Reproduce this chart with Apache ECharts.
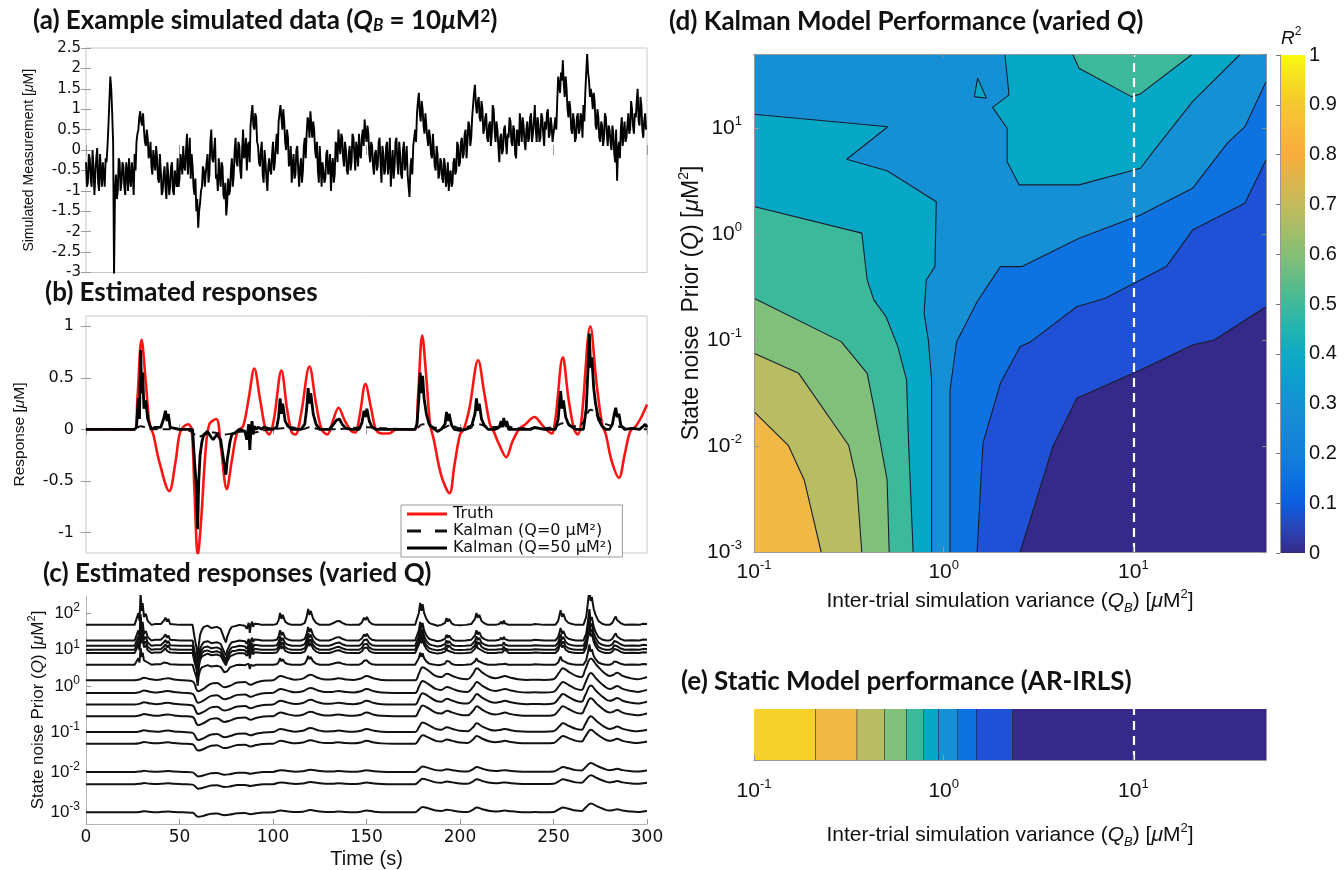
<!DOCTYPE html>
<html><head><meta charset="utf-8">
<script src="https://cdn.jsdelivr.net/npm/echarts@6/dist/echarts.min.js"></script>
<style>html,body{margin:0;padding:0;background:#fff}#c{width:1344px;height:870px}</style>
</head><body><div id="c"></div>
<script>
// ---------------- DATA ----------------
// (a) simulated measurement: values at whole seconds (t = 0..299) ...
const aValues = [
-0.3,-0.8,-0.2,-0.9,-0.4,-0.6,0.05,-1.0,-0.5,-0.3,
-0.9,-0.3,0.6,1.8,0.9,-3.1,-0.6,-1.0,-0.3,-0.8,
-0.4,-1.1,-0.5,-0.2,-0.9,-0.6,-0.1,0.2,0.5,0.95,
0.6,0.5,0.1,0.3,-0.1,-0.4,0.0,-0.5,-0.2,-0.8,
-0.5,-1.0,-0.4,-1.2,-0.6,-0.9,-0.3,-1.1,-0.5,-0.2,
-0.7,-0.3,0.1,-0.5,0.4,-0.2,-0.7,-0.4,-1.1,-1.5,
-1.9,-1.3,-0.9,-0.5,-0.9,-0.1,-0.6,0.5,-0.3,0.3,
-0.6,-0.2,-0.9,-0.4,-1.2,-1.6,-0.7,-1.0,-0.2,-0.6,
0.3,-0.4,0.1,-0.7,0.5,-0.1,-0.5,0.2,0.6,1.1,
0.5,0.8,0.1,-0.4,0.2,-0.8,-0.3,-1.0,-0.2,-0.6,
0.2,-0.3,0.4,0.7,1.1,0.5,0.7,0.0,0.3,-0.3,
-0.8,-0.1,-0.6,0.1,-0.9,-0.2,-0.5,0.3,0.4,0.7,
0.95,0.3,0.5,-0.2,-0.5,0.1,-0.9,-0.3,-0.7,0.0,
-0.5,-1.0,-0.2,-0.6,0.1,0.5,-0.1,0.3,-0.4,0.0,
-0.6,0.1,-0.3,0.3,-0.5,0.0,0.4,-0.2,0.5,0.75,
0.2,0.4,-0.3,0.1,-0.6,0.0,-0.4,0.3,-0.8,-0.1,
-0.5,0.2,-0.3,-0.9,0.0,-0.4,0.3,-0.6,-0.1,-0.7,
0.2,-0.3,-0.6,-1.15,-0.2,0.1,0.5,0.9,1.4,0.7,
1.0,0.4,0.6,0.1,0.3,-0.2,0.0,-0.5,-0.1,-0.6,
-0.3,-0.8,-0.4,-0.7,-1.0,-0.5,-0.8,-0.2,-0.5,0.1,
-0.3,0.3,-0.1,0.5,0.2,0.6,0.3,1.1,1.6,0.9,
1.3,0.7,1.0,0.5,0.9,0.2,0.7,0.4,1.0,0.2,
0.5,-0.3,0.4,0.0,0.6,-0.1,0.3,0.7,0.1,0.5,
-0.2,0.4,0.9,0.2,0.6,0.0,0.7,0.3,0.9,0.4,
1.1,0.2,0.6,0.3,0.8,0.1,0.5,1.0,0.4,0.6,
0.2,0.8,1.2,1.6,1.9,2.2,1.3,1.5,0.8,1.0,
0.4,0.7,0.3,0.9,0.5,0.8,1.1,1.4,2.35,1.7,
1.5,1.0,1.2,0.5,0.8,0.2,0.6,0.3,0.8,0.1,
0.5,0.0,0.4,-0.3,-0.75,0.2,0.5,0.1,0.7,0.3,
0.9,0.5,1.0,0.4,0.8,1.5,0.6,1.1,0.3,0.9
];
// ... and at the half seconds in between (t = 0.5..299.5)
const aValuesHalf = [
-0.9,-0.1,-0.7,0.0,-1.1,-0.2,-0.8,-0.1,-0.9,-0.6,
-0.2,0.1,1.2,1.5,0.2,-1.0,-1.2,-0.2,-1.0,-0.3,
-0.9,-0.3,-1.0,-0.7,-0.3,-1.1,-0.5,0.4,0.8,0.7,
0.9,0.2,0.5,-0.2,0.2,-0.6,-0.3,0.1,-0.7,-0.1,
-1.1,-0.6,-0.9,-0.3,-1.1,-0.4,-1.0,-0.5,-0.9,-0.9,
-0.1,-0.6,-0.4,0.0,-0.6,0.3,-0.1,-0.9,-0.7,-1.2,
-1.5,-1.0,-0.4,-0.9,-0.3,-0.8,0.2,-0.2,0.0,-0.7,
-1.0,-0.6,-0.3,-1.1,-0.8,-1.3,-1.1,-0.5,-0.9,0.0,
-0.3,0.2,-0.5,0.0,-0.2,0.3,0.1,-0.3,0.9,0.6,
0.9,0.2,-0.3,0.0,-0.6,0.0,-0.7,-0.4,-0.5,-0.1,
-0.5,0.1,-0.1,0.9,0.8,1.0,0.2,0.5,-0.4,0.1,
-0.4,-0.7,0.0,-0.5,-0.4,-0.8,0.1,-0.2,0.8,0.3,
0.6,0.7,0.0,0.2,-0.8,-0.4,-0.3,-0.8,-0.1,-0.6,
-0.1,-0.4,-0.8,0.2,-0.3,0.1,0.4,-0.2,0.2,-0.5,
-0.1,-0.5,0.4,-0.1,0.2,-0.4,-0.1,0.3,0.1,0.4,
0.6,-0.1,0.2,-0.4,-0.1,-0.5,0.2,-0.3,0.1,-0.6,
0.1,-0.6,0.3,-0.4,-0.7,0.2,-0.3,0.2,-0.6,0.0,
-0.5,0.1,-0.9,-0.4,-0.6,0.3,0.2,1.2,0.9,1.2,
0.6,0.9,0.3,0.5,-0.1,0.4,-0.4,0.1,-0.7,-0.2,
-0.7,-0.2,-0.9,-0.3,-0.6,-0.9,-0.3,-0.6,0.2,-0.4,
0.2,-0.2,0.4,-0.2,0.7,0.1,0.8,1.4,1.1,1.2,
0.8,1.2,0.4,0.8,0.3,0.6,0.1,1.1,0.5,0.7,
0.1,0.3,-0.1,0.5,0.2,0.4,0.8,0.2,0.6,-0.1,
0.5,0.1,0.6,0.8,0.2,0.5,0.2,0.8,0.2,0.7,
0.5,0.8,0.2,0.9,0.4,0.7,0.9,0.3,0.8,0.2,
0.6,0.5,1.8,1.4,1.7,1.6,1.8,1.0,1.2,0.5,
0.9,0.2,0.8,0.4,0.9,0.3,0.7,1.9,1.9,1.3,
1.3,1.4,0.6,1.0,0.3,0.7,0.1,0.9,0.4,0.6,
0.2,0.6,-0.1,0.5,0.0,-0.2,0.8,0.4,0.2,0.6,
0.4,1.2,0.6,0.9,1.2,0.7,1.3,0.5,0.7,0.5
];

// (b) responses: [time s, response uM]
const bTruth = [[0,0],[26,0],[27.5,0.3],[29.7,0.87],[32,0.45],[34,0.05],[36,-0.05],[39,-0.3],[44.5,-0.6],[48,-0.3],[50.5,-0.02],[54.6,0.05],[56.5,0.0],[58,-0.6],[59.8,-1.22],[61.5,-0.9],[64,-0.2],[66,0.05],[69.7,0.1],[72,-0.15],[75.3,-0.58],[78,-0.3],[81,-0.02],[84,0.03],[87,0.3],[90,0.59],[93,0.3],[96,0.0],[98,-0.05],[100.5,0.1],[104.5,0.57],[107.5,0.2],[110,-0.03],[112,-0.05],[115,0.15],[119.5,0.61],[123,0.25],[126,0.0],[129,-0.05],[132,0.08],[135,0.21],[138.5,0.08],[142,-0.02],[144,-0.03],[146.5,0.15],[149.4,0.44],[152.5,0.2],[155,0.0],[158,-0.04],[162,-0.04],[166,0.0],[176,0],[177.5,0.3],[179.8,0.91],[182,0.5],[184,0.05],[186,-0.1],[190,-0.45],[194.4,-0.62],[197,-0.35],[200,-0.05],[202,0.0],[205,0.2],[209.7,0.67],[213,0.35],[216,0.05],[218,-0.02],[221,-0.15],[224.7,-0.27],[228,-0.12],[231.5,0.0],[235,0.05],[239.8,0.12],[244,0.04],[246,0.0],[249,-0.04],[251,0.1],[255,0.7],[258,0.3],[261,0.0],[263,-0.05],[265,0.1],[269.7,1.0],[273,0.45],[276,0.05],[278,-0.05],[281,-0.3],[285,-0.47],[288,-0.25],[291,-0.02],[294,0.03],[297,0.12],[300,0.24]];
const bKalman0 = [[0,0],[26,0],[29,0.03],[32,0.02],[36,0.0],[45,0.0],[52,0.0],[56,-0.02],[60,-0.07],[64,-0.05],[68,-0.03],[74,-0.05],[78,-0.04],[84,-0.02],[90,-0.03],[95,-0.01],[100,0.0],[105,0.01],[110,0.02],[115,0.0],[120,0.02],[125,0.0],[130,0.0],[150,0.02],[160,0.01],[176,0.0],[180,0.05],[184,0.03],[190,0.01],[195,0.04],[200,0.01],[210,0.05],[216,0.02],[225,0.03],[230,0.01],[240,0.01],[250,0.02],[255,0.06],[260,0.03],[265,0.05],[270,0.19],[274,0.12],[278,0.05],[284,0.03],[290,0.01],[300,0.0]];
const bKalman50 = [[0,0],[26,0],[27,0.02],[28,0.3],[28.6,0.1],[29.2,0.77],[29.8,0.35],[30.3,0.55],[31,0.2],[32,0.28],[33,0.1],[34,0.05],[35,0.0],[37,0.02],[40,0.02],[41.5,0.1],[42.5,0.18],[43.3,0.08],[44,0.15],[45,0.02],[46,0.01],[50,0.0],[55,0.0],[57,0.0],[58,-0.3],[59.2,-0.6],[59.7,-0.97],[60.3,-0.5],[61,-0.25],[62,-0.12],[63,-0.05],[65,-0.02],[67,-0.08],[68,-0.1],[70,-0.05],[72,-0.1],[74,-0.35],[74.8,-0.44],[75.5,-0.3],[77,-0.12],[78,-0.05],[80,-0.03],[82,0.0],[85,-0.02],[86,-0.1],[87,0.05],[87.6,-0.2],[88.2,0.0],[88.8,0.08],[89.4,-0.05],[90,0.03],[91,0.0],[92,0.02],[94,0.0],[95,0.02],[100,0.0],[102,0.02],[103,0.12],[103.8,0.3],[104.5,0.15],[105.2,0.25],[106.5,0.08],[108,0.03],[110,0.0],[115,0.0],[117,0.05],[118,0.2],[118.8,0.4],[119.5,0.25],[120.2,0.35],[121.5,0.15],[123,0.05],[125,0.0],[130,0.0],[132,0.04],[134,0.09],[135.5,0.1],[137,0.05],[139,0.01],[142,0.0],[146,0.0],[147.5,0.06],[148.7,0.18],[149.5,0.12],[150.2,0.2],[151.5,0.08],[153,0.02],[155,0.0],[176,0.0],[177,0.05],[178,0.3],[178.7,0.55],[179.4,0.35],[180,0.52],[180.8,0.3],[182,0.15],[183.5,0.05],[185,0.02],[188,-0.02],[190,0.0],[192,0.05],[192.8,0.17],[193.5,0.08],[194.2,0.15],[195.5,0.04],[197,0.0],[200,-0.01],[203,0.0],[206,0.02],[208,0.15],[208.8,0.3],[209.5,0.18],[210.3,0.25],[211.5,0.1],[213,0.04],[215,0.0],[219,0.0],[221,0.02],[222,0.08],[222.7,0.02],[223.4,0.11],[224,0.04],[225,0.08],[226,0.0],[230,0.0],[238,0.0],[240,0.02],[245,0.0],[251,0.0],[252.5,0.1],[253.8,0.37],[254.6,0.2],[255.3,0.28],[256.5,0.12],[258,0.05],[260,0.02],[262,0.0],[266,0.0],[267.5,0.2],[268.5,0.6],[269.2,0.93],[269.8,0.6],[270.5,0.7],[271.5,0.4],[272.5,0.25],[274,0.1],[276,0.03],[278,0.0],[280,0.0],[281.5,0.05],[282.5,0.15],[283.3,0.21],[284,0.12],[285,0.15],[286,0.04],[288,0.0],[292,0.01],[296,0.0],[298,0.03],[299,0.05],[300,0.02]];

// (c) smooth (low-Q) response shape, normalised to its largest peak
const cSmoothTpl = [[0,0],[26,0],[29,0.05],[31,0.12],[34,0.06],[38,0.02],[41,0.06],[44,0.1],[47,0.04],[52,0.0],[57,-0.05],[60,-0.5],[63,-0.38],[67,-0.15],[70,-0.12],[74,-0.32],[77,-0.25],[81,-0.1],[85,-0.08],[88,-0.2],[91,-0.1],[95,-0.02],[100,0.0],[104,0.2],[108,0.1],[112,0.03],[116,0.08],[120,0.25],[124,0.12],[128,0.04],[132,0.05],[135,0.1],[139,0.04],[143,0.02],[147,0.08],[150,0.2],[154,0.08],[158,0.02],[165,0.0],[176,0.0],[178,0.3],[180,0.6],[183,0.45],[187,0.2],[190,0.15],[193,0.3],[196,0.2],[200,0.08],[204,0.05],[207,0.3],[209,0.55],[212,0.35],[216,0.15],[219,0.1],[222,0.15],[224,0.2],[227,0.12],[231,0.05],[236,0.02],[240,0.03],[245,0.02],[250,0.05],[253,0.35],[255,0.55],[258,0.4],[262,0.2],[265,0.15],[267,0.5],[270,1.0],[273,0.7],[277,0.35],[280,0.2],[282,0.25],[284,0.35],[287,0.2],[291,0.1],[295,0.05],[298,0.1],[300,0.15]];
// trace baselines on the display-offset axis (top to bottom), and gains
const cBaselines = [20.0,18.43,17.9,17.5,17.17,16.0,14.43,13.17,12.0,10.83,9.23,8.07,5.23,4.0,1.17];
const cSharpGains = [4.0,3.4,3.2,3.0,2.8,2.2];
const cSmoothGains = [2.2,2.0,1.9,1.8,1.6,1.4,0.9,0.9,0.9];
const cTickPos = [1.15,5.2,9.2,13.8,17.5,21.2];
const cTickExp = [-3,-2,-1,0,1,2];

// (d) contour lines, [Q_B, Q] points (uM^2)
const QB_MIN = 0.1, QB_MAX = 50, Q_MIN = 0.001, Q_MAX = 50;
const c01 = [[2.53,0.001],[3.76,0.00986],[5.03,0.0282],[10.9,0.0522],[20.5,0.0897],[26.7,0.1],[50,0.206]];
const c02 = [[1.50,0.001],[1.61,0.0106],[1.99,0.0391],[2.53,0.0867],[2.88,0.0966],[5.03,0.206],[7.1,0.248],[10.9,0.369],[14.9,0.493],[20.5,1.09],[38.7,1.95],[50,5.01]];
const c03 = [[1.08,0.001],[1.08,0.0338],[1.17,0.0966],[1.5,0.23],[1.99,0.493],[2.59,0.493],[5.17,0.914],[10.9,1.51],[14.9,2.02],[20.5,2.70],[31.3,7.2],[38.7,10.3],[50,27.4]];
const c04L = [[0.1,13.5],[0.508,10.3],[0.308,5.08],[0.503,3.96],[0.914,2.02],[0.899,0.493],[0.809,0.369],[0.788,0.179],[0.830,0.1],[0.863,0.042],[0.863,0.001]];
const c04T = [[2.10,50],[2.21,20.6],[1.81,15.7],[2.16,9.97],[2.16,4.82],[2.50,2.91],[5.17,2.91],[10.9,4.18],[12.7,6.0],[20.5,17.8],[36.7,50]];
const c04I = [[1.51,29.6],[1.45,19.8],[1.68,19.1],[1.51,29.6]];
const c05L = [[0.1,1.82],[0.370,1.02],[0.395,0.369],[0.428,0.239],[0.497,0.166],[0.573,0.0867],[0.637,0.042],[0.654,0.00986],[0.690,0.001]];
const c05T = [[4.78,50],[5.17,36.7],[9.76,19.8],[10.9,21.0],[20.5,50]];
const c06 = [[0.1,0.248],[0.288,0.0966],[0.395,0.0485],[0.428,0.0235],[0.503,0.00478],[0.516,0.001]];
const c07 = [[0.1,0.075],[0.172,0.0485],[0.316,0.0101],[0.347,0.00478],[0.370,0.001]];
const c08 = [[0.1,0.0211],[0.152,0.01007],[0.184,0.00478],[0.226,0.001]];
const QB_MARK = 10;

// (e) static model: band edges in Q_B and the R^2 band of each segment
const eBreaks = [0.1,0.212,0.350,0.489,0.637,0.788,0.940,1.19,1.49,2.31,50];
const eLevels = [0.9,0.8,0.7,0.6,0.5,0.4,0.3,0.2,0.1,0.0];

// colours of the filled bands (R^2 = 0,0.1,...,0.9) and colour bar stops
const bandColors = ['#352a8a','#2050d6','#0e72e0','#1690d4','#07a8c6','#3cb99a','#80c07a','#b8bd64','#f0b844','#f7d12b'];
const cbStops = [[0,'#352a87'],[0.05,'#2a45b8'],[0.1,'#0b5ee0'],[0.15,'#0c70e0'],[0.2,'#1480da'],[0.25,'#1788d6'],[0.3,'#1592d2'],[0.35,'#0c9ecd'],[0.4,'#0eaac4'],[0.45,'#22b4b0'],[0.5,'#3fb99a'],[0.55,'#62bc86'],[0.6,'#86bf75'],[0.65,'#a5bd68'],[0.7,'#c2bb5c'],[0.75,'#deb44c'],[0.8,'#f8ae3c'],[0.85,'#f8b93a'],[0.9,'#f5c82f'],[0.95,'#f6dd22'],[1.0,'#f9f90f']];

// ---------------- CHART ----------------
const NARROW = "'Liberation Sans Narrow','Liberation Sans',Arial,sans-serif";
const SANS = "'Liberation Sans',Arial,sans-serif";
const WIDE = "'DejaVu Sans',sans-serif";
const TF = "Lato,'Open Sans',sans-serif";
const chart = echarts.init(document.getElementById('c'), null, {renderer:'canvas'});

function supRich(fs, ss, fam) {
  return {
    b:{fontSize:fs, fontFamily:fam, color:'#111', fontWeight:'normal', lineHeight:fs+6},
    i:{fontSize:fs, fontFamily:fam, color:'#111', fontWeight:'normal', fontStyle:'italic', lineHeight:fs+6},
    s:{fontSize:ss, fontFamily:fam, color:'#111', fontWeight:'normal', verticalAlign:'top', lineHeight:ss},
    u:{fontSize:ss, fontFamily:fam, color:'#111', fontWeight:'normal', fontStyle:'italic', verticalAlign:'bottom', lineHeight:ss}
  };
}
const pow10 = e => '{b|10}{s|' + e + '}';
const logFmt = v => pow10(Math.round(Math.log10(v)));

function titleRich(fs) {
  return {
    t:{fontSize:fs, fontFamily:TF, fontWeight:'bold', color:'#111'},
    ti:{fontSize:fs, fontFamily:TF, fontWeight:'bold', fontStyle:'italic', color:'#111'},
    tsub:{fontSize:fs*0.65, fontFamily:TF, fontWeight:'bold', fontStyle:'italic', color:'#111', verticalAlign:'bottom', lineHeight:fs*0.8},
    tsup:{fontSize:fs*0.65, fontFamily:TF, fontWeight:'bold', color:'#111', verticalAlign:'top', lineHeight:fs*0.8}
  };
}
const TS = 26;
const titles = [
  {left:33, top:8, text:'{t|(a) Example simulated data (}{ti|Q}{tsub|B}{t| = 10}{ti|μ}{t|M}{tsup|2}{t|)}'},
  {left:45, top:280, text:'{t|(b) Estimated responses}'},
  {left:43, top:561, text:'{t|(c) Estimated responses (varied Q)}'},
  {left:669, top:9, text:'{t|(d) Kalman Model Performance (varied }{ti|Q}{t|)}'},
  {left:681, top:669, text:'{t|(e) Static Model performance (AR-IRLS)}'}
].map(o => ({left:o.left, top:o.top, padding:0, text:o.text, textStyle:{rich:titleRich(TS)}}));
titles.push({left:1281, top:26, padding:0, text:'{i|R}{s|2}', textStyle:{fontWeight:'normal', rich:supRich(19,12,SANS)}});

const G = '#b5b5b5';
const tickIn = {show:true, inside:true, length:5, lineStyle:{color:'#999'}};
const noSplit = {show:false};

const grid = [
  {left:86, top:48, width:561, height:224.5, show:true, borderColor:'#c8c8c8', borderWidth:1},
  {left:86, top:316, width:561, height:237, show:true, borderColor:'#c8c8c8', borderWidth:1},
  {left:86, top:596, width:561, height:229},
  {left:754, top:54, width:512, height:498},
  {left:754, top:709, width:512, height:51},
  {left:1280, top:55, width:25, height:498}
];

const QBNAME = 'Inter-trial simulation variance ({i|Q}{u|B}) [{i|μ}{b|M}{s|2}]';
const bLabelVals = [-1,-0.5,0,0.5,1];
const frameLine = {show:true, lineStyle:{color:'#999'}};
const xAxis = [
  {gridIndex:0, type:'value', min:0, max:300, interval:50, axisLine:{show:false}, axisTick:tickIn, axisLabel:{show:false}, splitLine:noSplit},
  {gridIndex:0, type:'value', position:'top', min:0, max:300, interval:50, axisLine:{show:false}, axisTick:tickIn, axisLabel:{show:false}, splitLine:noSplit},
  {gridIndex:1, type:'value', min:0, max:300, interval:50, axisLine:{show:false}, axisTick:tickIn, axisLabel:{show:false}, splitLine:noSplit},
  {gridIndex:1, type:'value', position:'top', min:0, max:300, interval:50, axisLine:{show:false}, axisTick:tickIn, axisLabel:{show:false}, splitLine:noSplit},
  {gridIndex:2, type:'value', min:0, max:300, interval:50, axisLine:{show:true, lineStyle:{color:G}}, axisTick:tickIn,
    axisLabel:{fontFamily:WIDE, fontSize:17, color:'#111', margin:5}, splitLine:noSplit,
    name:'Time (s)', nameLocation:'middle', nameGap:25, nameTextStyle:{fontFamily:NARROW, fontSize:20, color:'#111'}},
  {gridIndex:3, type:'log', logBase:10, min:QB_MIN, max:QB_MAX, z:10, axisLine:frameLine, axisTick:tickIn,
    axisLabel:{formatter:logFmt, showMaxLabel:false, margin:7, rich:supRich(21,13,NARROW)}, splitLine:noSplit, minorTick:{show:false},
    name:QBNAME, nameLocation:'middle', nameGap:30,
    nameTextStyle:{fontFamily:SANS, fontSize:21, color:'#111', rich:supRich(21,13,SANS)}},
  {gridIndex:4, type:'log', logBase:10, min:QB_MIN, max:QB_MAX, z:10, axisLine:frameLine, axisTick:tickIn,
    axisLabel:{formatter:logFmt, showMaxLabel:false, margin:18, rich:supRich(21,13,NARROW)}, splitLine:noSplit,
    name:QBNAME, nameLocation:'middle', nameGap:62,
    nameTextStyle:{fontFamily:SANS, fontSize:21, color:'#111', rich:supRich(21,13,SANS)}},
  {gridIndex:5, type:'value', min:0, max:1, show:false},
  {gridIndex:3, type:'log', logBase:10, position:'top', min:QB_MIN, max:QB_MAX, z:10, axisLine:frameLine,
    axisTick:{show:true, inside:true, length:4, lineStyle:{color:'#888'}}, axisLabel:{show:false}, splitLine:noSplit},
  {gridIndex:4, type:'log', logBase:10, position:'top', min:QB_MIN, max:QB_MAX, z:10, axisLine:frameLine,
    axisTick:{show:false}, axisLabel:{show:false}, splitLine:noSplit}
];

const yAxis = [
  {gridIndex:0, type:'value', min:-3, max:2.5, interval:0.5, axisLine:{show:false}, axisTick:tickIn,
    axisLabel:{fontFamily:WIDE, fontSize:15, color:'#111', margin:5}, splitLine:noSplit,
    name:'Simulated Measurement [{i|μ}{b|M}]', nameLocation:'middle', nameGap:47,
    nameTextStyle:{fontFamily:NARROW, fontSize:14, color:'#111', rich:supRich(14,10,NARROW)}},
  {gridIndex:0, type:'value', position:'right', min:-3, max:2.5, interval:0.5, axisLine:{show:false}, axisTick:tickIn, axisLabel:{show:false}, splitLine:noSplit},
  {gridIndex:1, type:'value', min:-1.2, max:1.1, axisLine:{show:false}, axisTick:Object.assign({customValues:bLabelVals}, tickIn),
    axisLabel:{customValues:bLabelVals, fontFamily:WIDE, fontSize:16, color:'#111', margin:12}, splitLine:noSplit,
    name:'Response [{i|μ}{b|M}]', nameLocation:'middle', nameGap:56,
    nameTextStyle:{fontFamily:NARROW, fontSize:15.5, color:'#111', rich:supRich(15.5,10,NARROW)}},
  {gridIndex:1, type:'value', position:'right', min:-1.2, max:1.1, axisLine:{show:false}, axisTick:Object.assign({customValues:bLabelVals}, tickIn), axisLabel:{show:false}, splitLine:noSplit},
  {gridIndex:2, type:'value', min:0, max:22.9, axisLine:{show:true, lineStyle:{color:G}},
    axisTick:Object.assign({customValues:cTickPos}, tickIn),
    axisLabel:{customValues:cTickPos, formatter:v => pow10(cTickExp[cTickPos.indexOf(v)]), margin:6, rich:supRich(17,12,NARROW)}, splitLine:noSplit,
    name:'State noise Prior ({i|Q}) [{i|μ}{b|M}{s|2}]', nameLocation:'middle', nameGap:34,
    nameTextStyle:{fontFamily:NARROW, fontSize:17, color:'#111', rich:supRich(17,11,NARROW)}},
  {gridIndex:3, type:'log', logBase:10, min:Q_MIN, max:Q_MAX, z:10, axisLine:frameLine, axisTick:tickIn,
    axisLabel:{formatter:logFmt, showMaxLabel:false, margin:12, rich:supRich(21,13,NARROW)}, splitLine:noSplit,
    name:'State noise  Prior ({i|Q}) [{i|μ}{b|M}{s|2}]', nameLocation:'middle', nameGap:38,
    nameTextStyle:{fontFamily:SANS, fontSize:23, color:'#111', rich:supRich(23,14,SANS)}},
  {gridIndex:4, type:'value', min:0, max:1, show:false},
  {gridIndex:5, type:'value', position:'right', min:0, max:1, interval:0.1, z:10,
    axisLine:frameLine, axisTick:{show:true, inside:true, length:4, lineStyle:{color:'#777'}},
    axisLabel:{fontFamily:NARROW, fontSize:20, color:'#111', margin:4, formatter:v => String(Math.round(v*10)/10)}, splitLine:noSplit},
  {gridIndex:3, type:'log', logBase:10, position:'right', min:Q_MIN, max:Q_MAX, z:10, axisLine:frameLine,
    axisTick:{show:true, inside:true, length:4, lineStyle:{color:'#888'}}, axisLabel:{show:false}, splitLine:noSplit},
  {gridIndex:4, type:'value', position:'right', min:0, max:1, z:10, axisLine:frameLine, axisTick:{show:false}, axisLabel:{show:false}, splitLine:noSplit}
];

const series = [];
// (a)
const aData = [];
aValues.forEach((v, i) => { aData.push([i, v]); aData.push([i + 0.5, aValuesHalf[i]]); });
series.push({type:'line', xAxisIndex:0, yAxisIndex:0, data:aData, showSymbol:false, silent:true,
  lineStyle:{color:'#000', width:1.9}});
// (b)
series.push({name:'Truth', type:'line', xAxisIndex:2, yAxisIndex:2, data:bTruth, smooth:0.35, showSymbol:false, symbol:'none',
  lineStyle:{color:'#ff1414', width:2.6}, itemStyle:{color:'#ff1414'}});
series.push({name:'Kalman (Q=0 μM²)', type:'line', xAxisIndex:2, yAxisIndex:2, data:bKalman0, smooth:0.4, showSymbol:false, symbol:'none',
  lineStyle:{color:'#111', width:2, type:[8,5]}, itemStyle:{color:'#111'}});
series.push({name:'Kalman (Q=50 μM²)', type:'line', xAxisIndex:2, yAxisIndex:2, data:bKalman50, showSymbol:false, symbol:'none',
  lineStyle:{color:'#000', width:2.8}, itemStyle:{color:'#000'}});
// (c)
cBaselines.forEach((base, i) => {
  const sharp = i < cSharpGains.length;
  const tpl = sharp ? bKalman50 : cSmoothTpl;
  const g = sharp ? cSharpGains[i] : cSmoothGains[i - cSharpGains.length];
  series.push({type:'line', xAxisIndex:4, yAxisIndex:4, data:tpl.map(p => [p[0], base + g*p[1]]),
    smooth: sharp ? false : 0.4, showSymbol:false, silent:true, lineStyle:{color:'#111', width:2}});
});
// (d) filled bands
function poly(points, color) {
  return {type:'custom', coordinateSystem:'cartesian2d', xAxisIndex:5, yAxisIndex:5, silent:true, clip:true,
    data:[points[0]],
    renderItem:(params, api) => ({type:'polygon', shape:{points:points.map(p => api.coord(p))}, style:{fill:color}})};
}
const upperClose = [[QB_MAX,Q_MAX],[QB_MIN,Q_MAX],[QB_MIN,Q_MIN]];
const cornerClose = [[QB_MIN,Q_MIN]];
series.push(poly([[QB_MIN,Q_MIN],[QB_MAX,Q_MIN],[QB_MAX,Q_MAX],[QB_MIN,Q_MAX]], bandColors[0]));
series.push(poly(c01.concat(upperClose), bandColors[1]));
series.push(poly(c02.concat(upperClose), bandColors[2]));
series.push(poly(c03.concat(upperClose), bandColors[3]));
series.push(poly(c04L.concat(cornerClose), bandColors[4]));
series.push(poly(c04T, bandColors[4]));
series.push(poly(c04I, bandColors[4]));
series.push(poly(c05L.concat(cornerClose), bandColors[5]));
series.push(poly(c05T, bandColors[5]));
series.push(poly(c06.concat(cornerClose), bandColors[6]));
series.push(poly(c07.concat(cornerClose), bandColors[7]));
series.push(poly(c08.concat(cornerClose), bandColors[8]));
[c01,c02,c03,c04L,c04T,c04I,c05L,c05T,c06,c07,c08].forEach((ln, k) => {
  const s = {type:'line', xAxisIndex:5, yAxisIndex:5, data:ln, showSymbol:false, silent:true, z:4,
    lineStyle:{color:'#1b1d2e', width:1.1}};
  if (k === 0) s.markLine = {silent:true, symbol:'none', label:{show:false}, z:6,
    lineStyle:{color:'#ffffff', type:[9,6], width:2.2}, data:[{xAxis:QB_MARK}]};
  series.push(s);
});
// (e)
series.push({type:'custom', coordinateSystem:'cartesian2d', xAxisIndex:6, yAxisIndex:6, silent:true,
  data:eLevels.map((lv, i) => [eBreaks[i], eBreaks[i+1], lv]),
  renderItem:(params, api) => {
    const p0 = api.coord([api.value(0), 1]);
    const p1 = api.coord([api.value(1), 0]);
    const idx = Math.round(api.value(2)*10);
    return {type:'group', children:[
      {type:'rect', shape:{x:p0[0], y:p0[1], width:p1[0]-p0[0], height:p1[1]-p0[1]}, style:{fill:bandColors[idx]}},
      {type:'line', shape:{x1:p1[0], y1:p0[1], x2:p1[0], y2:p1[1]}, style:{stroke: params.dataIndex < eLevels.length-1 ? '#1b1d2e' : 'none', lineWidth:1.1}}
    ]};
  },
  markLine:{silent:true, symbol:'none', label:{show:false}, lineStyle:{color:'#ffffff', type:[9,6], width:2.2}, data:[{xAxis:QB_MARK}]}
});
// colour bar
series.push({type:'custom', coordinateSystem:'cartesian2d', xAxisIndex:7, yAxisIndex:7, silent:true, data:[[0,0]],
  renderItem:(params, api) => {
    const p0 = api.coord([0,1]), p1 = api.coord([1,0]);
    return {type:'rect', shape:{x:p0[0], y:p0[1], width:p1[0]-p0[0], height:p1[1]-p0[1]},
      style:{fill:{type:'linear', x:0, y:1, x2:0, y2:0, colorStops:cbStops.map(s => ({offset:s[0], color:s[1]}))}}};
  }});

chart.setOption({
  animation:false,
  backgroundColor:'#fff',
  title:titles,
  legend:{
    data:[
      {name:'Truth', icon:'path://M0,0h40v3h-40z'},
      {name:'Kalman (Q=0 μM²)', icon:'path://M0,0h14v3h-14zM28,0h12v3h-12z'},
      {name:'Kalman (Q=50 μM²)', icon:'path://M0,0h40v3h-40z'}
    ],
    orient:'vertical', left:401, top:505, itemWidth:42, itemHeight:3, itemGap:1, padding:[1,10,1,6],
    borderColor:'#999', borderWidth:1, backgroundColor:'#fff',
    textStyle:{fontFamily:WIDE, fontSize:16, color:'#111', lineHeight:13.5}, selectedMode:false},
  grid, xAxis, yAxis, series
});
</script></body></html>
